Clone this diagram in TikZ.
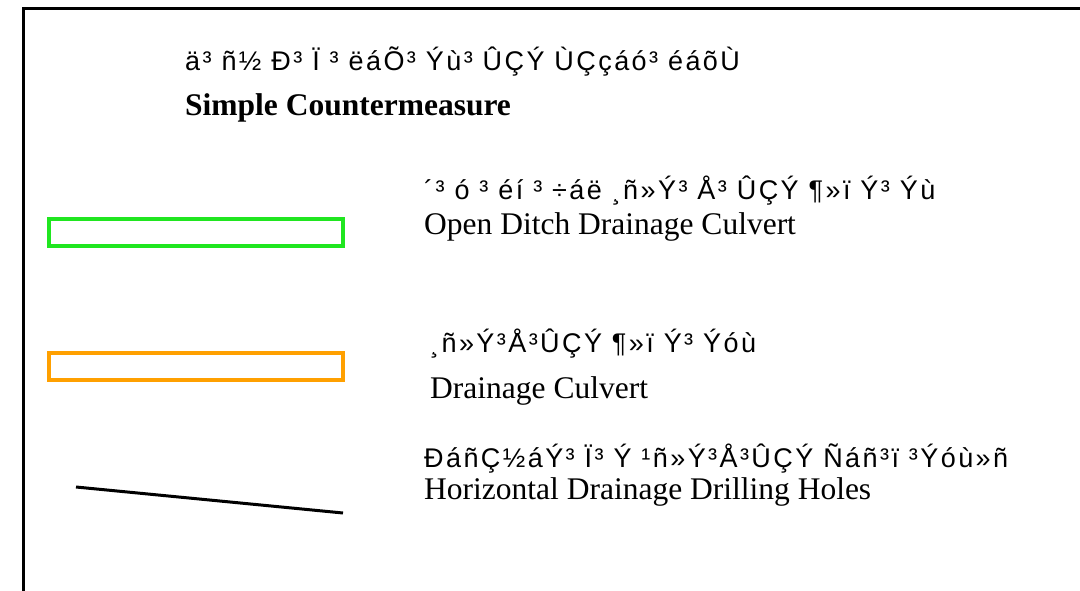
\documentclass[tikz,border=0pt]{standalone}
\usepackage{fontspec}
\setmainfont{Liberation Serif}
\newfontfamily\garb[LetterSpace=9]{Liberation Sans}
\begin{document}
\begin{tikzpicture}[x=1pt,y=-1pt,
  frameline/.style={line width=3pt,black},
  gtext/.style={anchor=base west,inner sep=0pt,font=\garb\fontsize{27}{32}\selectfont},
  etext/.style={anchor=base west,inner sep=0pt,font=\fontsize{31.5}{36}\selectfont}]
\useasboundingbox (0,0) rectangle (1080,591);
\draw[frameline] (23,600) -- (23,9) -- (1090,9);
\draw[draw={rgb,255:red,32;green,230;blue,32},line width=4pt] (49,219) rectangle (343,246);
\draw[draw={rgb,255:red,255;green,160;blue,0},line width=4pt] (49,353) rectangle (343,380);
\coordinate (l1) at (76,487);
\coordinate (l2) at (343,513);
\draw[line width=3pt] (l1) -- (l2);
\node[gtext] (t1) at (185,71) {ä³ ñ½ Ð³ Ï ³ ëáÕ³ Ýù³ ÛÇÝ ÙÇçáó³ éáõÙ};
\node[etext,font=\bfseries\fontsize{31.5}{36}\selectfont] (t2) at (185,116) {Simple Countermeasure};
\node[gtext] (g2) at (424,200) {´³ ó ³ éí ³ ÷áë ¸ñ»Ý³ Å³ ÛÇÝ ¶»ï Ý³ Ýù};
\node[etext] (e2) at (424,235) {Open Ditch Drainage Culvert};
\node[gtext] (g3) at (430,352) {¸ñ»Ý³Å³ÛÇÝ ¶»ï Ý³ Ýóù};
\node[etext] (e3) at (430,398) {Drainage Culvert};
\node[gtext] (g4) at (424,467) {ÐáñÇ½áÝ³ Ï³ Ý ¹ñ»Ý³Å³ÛÇÝ Ñáñ³ï ³Ýóù»ñ};
\node[etext] (e4) at (424,499) {Horizontal Drainage Drilling Holes};
\end{tikzpicture}
\end{document}
